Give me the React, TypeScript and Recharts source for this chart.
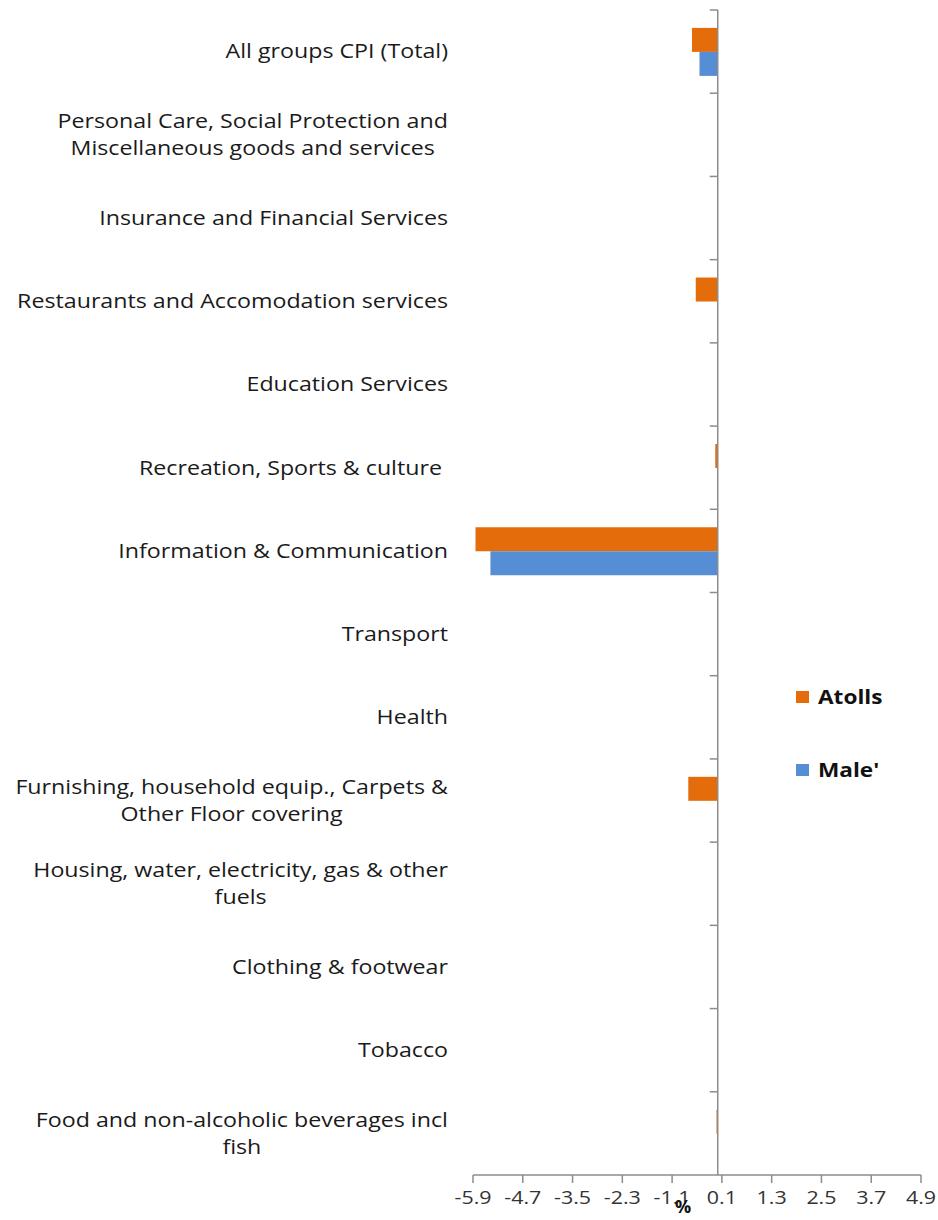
import { Bar, BarChart, Label, Legend, ReferenceLine, XAxis, YAxis } from "recharts";

const categories = [
  "All groups CPI (Total)",
  "Personal Care, Social Protection and\nMiscellaneous goods and services",
  "Insurance and Financial Services",
  "Restaurants and Accomodation services",
  "Education Services",
  "Recreation, Sports & culture ",
  "Information & Communication",
  "Transport",
  "Health",
  "Furnishing, household equip., Carpets &\nOther Floor covering",
  "Housing, water, electricity, gas & other\nfuels",
  "Clothing & footwear",
  "Tobacco",
  "Food and non-alcoholic beverages incl\nfish",
];

const atolls = [-0.62, 0, 0, -0.53, 0, -0.06, -5.84, 0, 0, -0.71, 0, 0, 0, -0.03];
const male = [-0.44, 0, 0, 0, 0, 0, -5.48, 0, 0, 0, 0, 0, 0, 0];

const xTicks = [-5.9, -4.7, -3.5, -2.3, -1.1, 0.1, 1.3, 2.5, 3.7, 4.9];

const data = categories.map((name, i) => ({ name, atolls: atolls[i], male: male[i] }));

const FONT = "'Open Sans', 'Noto Sans', sans-serif";
const LABEL_SIZE = 19.5;
const SX = 1.19; // the original text is a bit stretched sideways
const AXIS_GREY = "#8c8c8c";
const ORANGE = "#e46c0a";
const BLUE = "#558ed5";

let ctx: CanvasRenderingContext2D | null = null;
function textWidth(s: string, font: string) {
  if (!ctx) ctx = document.createElement("canvas").getContext("2d");
  if (!ctx) return s.length * 10;
  ctx.font = font;
  return ctx.measureText(s).width;
}

const stretch = (ax: number) => `translate(${ax} 0) scale(${SX} 1) translate(${-ax} 0)`;

function CategoryTick(props: any) {
  const { x, y, payload } = props;
  const lines = String(payload.value).split("\n");
  const lh = 27;
  const y0 = y - ((lines.length - 1) * lh) / 2;
  const multi = lines.length > 1;
  const maxW = Math.max(...lines.map((l) => textWidth(l, `${LABEL_SIZE}px ${FONT}`))) * SX;
  const ax = multi ? x - maxW / 2 : x;
  return (
    <g transform={stretch(ax)}>
      {lines.map((l, i) => (
        <text
          key={i}
          x={ax}
          y={y0 + i * lh}
          dy="0.35em"
          textAnchor={multi ? "middle" : "end"}
          fontSize={LABEL_SIZE}
          fontFamily={FONT}
          fill="#1a1a1a"
          style={{ whiteSpace: "pre" }}
        >
          {l}
        </text>
      ))}
    </g>
  );
}

function ValueTick(props: any) {
  const { x, y, payload } = props;
  return (
    <g transform={stretch(x)}>
      <text x={x} y={y} dy="0.71em" textAnchor="middle" fontSize={18} fontFamily={FONT} fill="#333">
        {Number(payload.value).toFixed(1)}
      </text>
    </g>
  );
}

// vertical axis crossing at zero, with tick marks at category boundaries
function ZeroAxis(props: any) {
  const { x1, y1, y2 } = props;
  const top = Math.min(y1, y2);
  const bottom = Math.max(y1, y2);
  const step = (bottom - top) / categories.length;
  return (
    <g>
      <line x1={x1} x2={x1} y1={top} y2={bottom} stroke={AXIS_GREY} strokeWidth={1.5} />
      {categories.map((_, i) => (
        <line key={i} x1={x1 - 8} x2={x1} y1={top + i * step} y2={top + i * step} stroke={AXIS_GREY} strokeWidth={1.5} />
      ))}
    </g>
  );
}

function LegendBox(props: any) {
  const items = props.payload || [];
  return (
    <div>
      {items.map((it: any) => (
        <div
          key={it.value}
          style={{ display: "flex", alignItems: "center", height: 24, marginBottom: 49, fontFamily: FONT, fontWeight: 700, fontSize: 19, color: "#111" }}
        >
          <span style={{ display: "inline-block", width: 13, height: 12, background: it.color, marginRight: 9 }} />
          <span style={{ display: "inline-block", transform: `scaleX(${SX})`, transformOrigin: "left center" }}>{it.value}</span>
        </div>
      ))}
    </div>
  );
}

export default function App() {
  return (
    <div style={{ width: 938, height: 1220, background: "#fff" }}>
      <style>{`body{margin:0}`}</style>
      <BarChart
        width={938}
        height={1220}
        data={data}
        layout="vertical"
        margin={{ top: 10, right: 17, left: 0, bottom: 0 }}
        barCategoryGap="21.5%"
        barGap={0}
      >
        <XAxis
          type="number"
          domain={[-5.9, 4.9]}
          ticks={xTicks}
          interval={0}
          height={45}
          tick={<ValueTick />}
          stroke={AXIS_GREY}
          strokeWidth={1.5}
          tickSize={8}
          tickMargin={8}
        >
          <Label value="%" position="insideBottom" dx={-14} dy={-2} style={{ fontFamily: FONT, fontWeight: 700, fontSize: 18, fill: "#111" }} />
        </XAxis>
        <YAxis
          type="category"
          dataKey="name"
          width={473}
          axisLine={false}
          tickLine={false}
          tickSize={0}
          tickMargin={25}
          interval={0}
          tick={<CategoryTick />}
        />
        <Legend
          layout="vertical"
          align="center"
          verticalAlign="middle"
          content={<LegendBox />}
          wrapperStyle={{ left: 796, top: 685, width: 130, height: "auto" }}
        />
        <Bar dataKey="atolls" name="Atolls" fill={ORANGE} isAnimationActive={false} />
        <Bar dataKey="male" name="Male'" fill={BLUE} isAnimationActive={false} />
        <ReferenceLine x={0} shape={<ZeroAxis />} ifOverflow="visible" />
      </BarChart>
    </div>
  );
}
